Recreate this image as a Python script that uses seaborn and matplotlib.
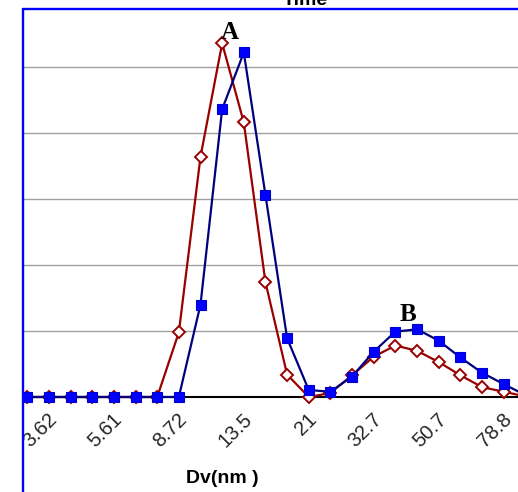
import matplotlib
matplotlib.use("Agg")
import matplotlib.pyplot as plt
from matplotlib.lines import Line2D
from matplotlib.patches import Rectangle
from matplotlib.transforms import ScaledTranslation
import pandas as pd
import seaborn as sns

# Size classes (nm) of the distribution
sizes = ["3.12", "3.62", "4.19", "4.85", "5.61", "6.5", "7.53", "8.72",
         "10.1", "11.7", "13.5", "15.7", "18.2", "21", "24.4", "28.2",
         "32.7", "37.8", "43.8", "50.7", "58.8", "68.1", "78.8", "91.3"]

# Distribution values for the two measurements
vol_diamond = [0, 0, 0, 0, 0, 0, 0, 4.9, 18.2, 26.8, 20.8, 8.7, 1.7, 0,
               0.3, 1.65, 3.05, 3.9, 3.5, 2.65, 1.65, 0.75, 0.4, 0.05]
vol_square = [0, 0, 0, 0, 0, 0, 0, 0, 7.0, 21.8, 26.1, 15.3, 4.45, 0.53,
              0.4, 1.55, 3.43, 4.95, 5.13, 4.27, 3.0, 1.84, 0.98, 0.15]

label_every = 3
first_label = 1
peak_labels = [("A", 9.36, 27.1), ("B", 17.57, 5.76)]

sns.set_style("white")
plt.rcParams["font.family"] = ["Liberation Sans", "DejaVu Sans"]

W, H = 518, 492
fig = plt.figure(figsize=(W / 100, H / 100), dpi=100)
fig.patch.set_facecolor("white")

# plot area in pixel terms: left edge 23, right edge 518, top 9, baseline 397
ax = fig.add_axes([23 / W, (H - 397) / H, (518 - 23) / W, (397 - 9) / H])

df = pd.DataFrame({
    "pos": list(range(len(sizes))) * 2,
    "value": vol_diamond + vol_square,
    "series": ["diamond"] * len(sizes) + ["square"] * len(sizes),
})

sns.lineplot(data=df[df.series == "diamond"], x="pos", y="value", ax=ax,
             color="#990000", lw=1.6, marker="D", ms=6.6, mfc="white",
             mec="#990000", mew=1.4, clip_on=False, zorder=3)
sns.lineplot(data=df[df.series == "square"], x="pos", y="value", ax=ax,
             color="#00007F", lw=1.6, marker="s", ms=7.4, mfc="#0000FF",
             mec="#0000CC", mew=0.8, clip_on=False, zorder=4)

x0 = (23 - 27.3) / 21.65
x1 = (518 - 27.3) / 21.65

# horizontal gridlines
ax.set_yticks([5, 10, 15, 20, 25])
ax.yaxis.grid(True, color="#a0a0a0", lw=1.0)
ax.tick_params(axis="y", left=False, labelleft=False)
ax.set_axisbelow(True)

# category boundary tick marks, labels on every third category
bounds = [i + 0.5 for i in range(-1, len(sizes)) if x0 <= i + 0.5 <= x1]
ax.set_xticks(bounds)
ax.set_xticklabels([])
ax.tick_params(axis="x", which="major", direction="out", length=4.5,
               width=1.3, color="black")
lab_pos = list(range(first_label, len(sizes), label_every))
ax.set_xticks(lab_pos, minor=True)
ax.set_xticklabels([sizes[i] for i in lab_pos], minor=True)
ax.tick_params(axis="x", which="minor", length=0, pad=14, labelsize=14.5)
off = ScaledTranslation(5 / 100, 0, fig.dpi_scale_trans)
for t in ax.get_xticklabels(minor=True):
    t.set_rotation(45)
    t.set_ha("right")
    t.set_va("center")
    t.set_rotation_mode("anchor")
    t.set_transform(t.get_transform() + off)

# view limits set after the ticks so they are not widened
ax.set_xlim(x0, x1)
ax.set_ylim(0, (397 - 9) / 66 * 5)

for s in ["left", "right", "top"]:
    ax.spines[s].set_visible(False)
ax.spines["bottom"].set_color("black")
ax.spines["bottom"].set_linewidth(1.5)
ax.set_xlabel("")
ax.set_ylabel("")

for txt, px, py in peak_labels:
    ax.text(px, py, txt, ha="center", va="baseline", fontsize=18,
            fontweight="bold", family="Liberation Serif", color="black",
            zorder=5)

fig.text(222 / W, 1 - 483 / H, "Dv(nm )", ha="center", va="baseline",
         fontsize=14, fontweight="bold", color="black")
fig.text(305 / W, 1 - 4.7 / H, "Time", ha="center", va="baseline",
         fontsize=14, fontweight="bold", color="black")

# white margin and blue frame around the chart
fig.add_artist(Rectangle((0, 0), 22 / W, 1, transform=fig.transFigure,
                         facecolor="white", edgecolor="none", zorder=10))
fig.add_artist(Line2D([23 / W, 23 / W], [0, 1 - 9 / H], color="#0000FF",
                      lw=1.7, transform=fig.transFigure, zorder=11))
fig.add_artist(Line2D([23 / W, 1], [1 - 9 / H, 1 - 9 / H], color="#0000FF",
                      lw=1.7, transform=fig.transFigure, zorder=11))

fig.savefig("out.png", dpi=100)
